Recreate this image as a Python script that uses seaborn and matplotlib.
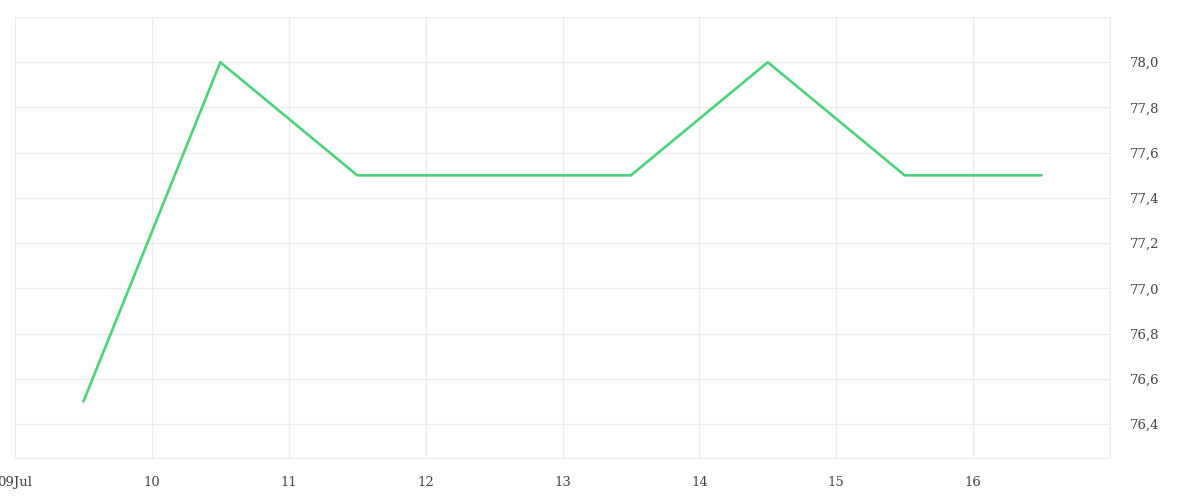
import matplotlib
matplotlib.use("Agg")
import matplotlib.pyplot as plt
import matplotlib.dates as mdates
import matplotlib.ticker as mticker
import seaborn as sns
import pandas as pd

# values (one point per day, at midday)
dates = ["2024-07-09 12:00", "2024-07-10 12:00", "2024-07-11 12:00", "2024-07-12 12:00",
         "2024-07-13 12:00", "2024-07-14 12:00", "2024-07-15 12:00", "2024-07-16 12:00"]
values = [76.5, 78.0, 77.5, 77.5, 77.5, 78.0, 77.5, 77.5]
y_ticks = [76.4, 76.6, 76.8, 77.0, 77.2, 77.4, 77.6, 77.8, 78.0, 78.2]

df = pd.DataFrame({"date": pd.to_datetime(dates), "value": values})

sns.set_style("white")
plt.rcParams["font.family"] = ["DejaVu Serif"]

fig = plt.figure(figsize=(12, 5), dpi=100)
ax = fig.add_axes([15 / 1200, 1 - 458 / 500, (1110 - 15) / 1200, (458 - 17) / 500])

sns.lineplot(data=df, x="date", y="value", ax=ax, color="#4cd27a", linewidth=1.9)

ax.set_xlim(pd.Timestamp("2024-07-09"), pd.Timestamp("2024-07-17"))
ax.set_ylim(76.25, 78.2)

grid_c = "#ececec"
ax.xaxis.set_major_locator(mdates.DayLocator())
start = mdates.date2num(pd.Timestamp("2024-07-09"))
end = mdates.date2num(pd.Timestamp("2024-07-17"))


def day_label(x, pos):
    d = mdates.num2date(x)
    if abs(x - start) < 1e-6:
        return d.strftime("%d%b")
    if x >= end - 1e-6:
        return ""
    return str(d.day)


ax.xaxis.set_major_formatter(mticker.FuncFormatter(day_label))
ax.yaxis.set_major_locator(mticker.FixedLocator(y_ticks))
ax.yaxis.set_major_formatter(mticker.FuncFormatter(
    lambda v, p: "" if v > 78.1 else f"{v:.1f}".replace(".", ",")))
ax.yaxis.tick_right()

ax.grid(True, color=grid_c, linewidth=1)
for side in ["top", "left"]:
    ax.spines[side].set_visible(False)
ax.spines["bottom"].set_color(grid_c)
ax.spines["right"].set_color(grid_c)

ax.tick_params(axis="x", colors=grid_c, length=9, width=1, labelcolor="#444444",
               labelsize=9.5, pad=4)
ax.tick_params(axis="y", length=0, labelcolor="#444444", labelsize=9.5, pad=14)
ax.set_xlabel("")
ax.set_ylabel("")

fig.savefig("out.png", dpi=100)
